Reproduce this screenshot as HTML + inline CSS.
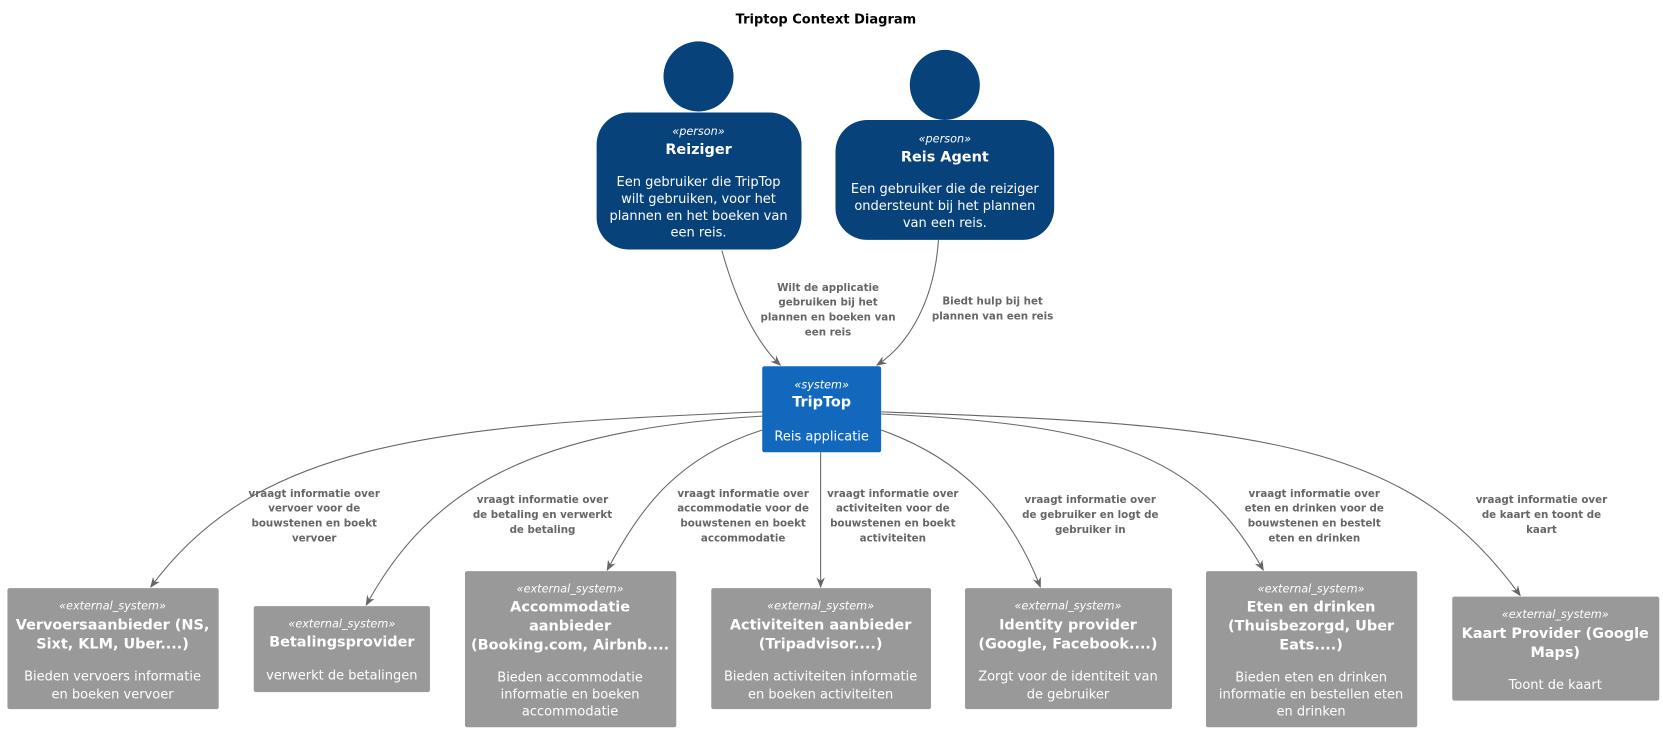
<!DOCTYPE html>
<html><head><meta charset="utf-8"><style>
html,body{margin:0;padding:0;background:#fff}
svg text{font-family:"DejaVu Sans","Liberation Sans",sans-serif}
.st{font-size:10.6px;font-style:italic;fill:#fff}
.ti{font-size:13.6px;font-weight:bold;fill:#fff}
.de{font-size:12.25px;fill:#fff}
.el{font-size:9.7px;font-weight:bold;fill:#666}
.ln{fill:none;stroke:#666;stroke-width:1}
</style></head><body>
<svg width="1663" height="732" viewBox="0 0 1663 732" xmlns="http://www.w3.org/2000/svg">
<defs><marker id="a" markerWidth="10" markerHeight="10" refX="9" refY="5" orient="auto" markerUnits="userSpaceOnUse"><path d="M0,1 L10,5 L0,9 L3,5 Z" fill="#666"/></marker></defs>
<g transform="scale(1.0616)">
<text x="778" y="22" text-anchor="middle" style="font-size:12.25px;font-weight:bold;fill:#000">Triptop Context Diagram</text>

<!-- persons -->
<circle cx="658" cy="72" r="33" fill="#08427b"/>
<rect x="562" y="106" width="193" height="129" rx="30" fill="#08427b"/>
<g text-anchor="middle">
<text class="st" x="658" y="127">«person»</text>
<text class="ti" x="658" y="145">Reiziger</text>
<text class="de" x="658" y="175">Een gebruiker die TripTop</text>
<text class="de" x="658" y="191">wilt gebruiken, voor het</text>
<text class="de" x="658" y="207">plannen en het boeken van</text>
<text class="de" x="658" y="223">een reis.</text>
</g>
<circle cx="890" cy="80" r="33" fill="#08427b"/>
<rect x="787" y="113" width="206" height="113" rx="30" fill="#08427b"/>
<g text-anchor="middle">
<text class="st" x="890" y="134">«person»</text>
<text class="ti" x="890" y="152">Reis Agent</text>
<text class="de" x="890" y="182">Een gebruiker die de reiziger</text>
<text class="de" x="890" y="198">ondersteunt bij het plannen</text>
<text class="de" x="890" y="214">van een reis.</text>
</g>

<!-- system -->
<rect x="718" y="345" width="112" height="81" rx="2" fill="#1168bd"/>
<g text-anchor="middle">
<text class="st" x="774" y="366">«system»</text>
<text class="ti" x="774" y="383">TripTop</text>
<text class="de" x="774" y="415">Reis applicatie</text>
</g>

<!-- edges -->
<path class="ln" marker-end="url(#a)" d="M680,236 C695,290 715,325 735,344"/>
<path class="ln" marker-end="url(#a)" d="M884,226 C880,285 855,325 826,344"/>
<path class="ln" marker-end="url(#a)" d="M718,388 C400,400 240,420 142,553"/>
<path class="ln" marker-end="url(#a)" d="M718,392 C500,405 405,460 345,570"/>
<path class="ln" marker-end="url(#a)" d="M718,405 C640,430 605,475 572,537"/>
<path class="ln" marker-end="url(#a)" d="M773,426 L773,553"/>
<path class="ln" marker-end="url(#a)" d="M830,405 C900,430 950,475 980,553"/>
<path class="ln" marker-end="url(#a)" d="M830,390 C1050,400 1130,430 1190,537"/>
<path class="ln" marker-end="url(#a)" d="M830,388 C1200,400 1330,420 1432,561"/>

<g text-anchor="middle">
<text class="el" x="780" y="274">Wilt de applicatie</text>
<text class="el" x="780" y="288">gebruiken bij het</text>
<text class="el" x="780" y="302">plannen en boeken van</text>
<text class="el" x="780" y="316">een reis</text>
<text class="el" x="935" y="287">Biedt hulp bij het</text>
<text class="el" x="935" y="301">plannen van een reis</text>

<text class="el" x="296" y="468">vraagt informatie over</text>
<text class="el" x="296" y="482">vervoer voor de</text>
<text class="el" x="296" y="496">bouwstenen en boekt</text>
<text class="el" x="296" y="510">vervoer</text>
<text class="el" x="511" y="474">vraagt informatie over</text>
<text class="el" x="511" y="488">de betaling en verwerkt</text>
<text class="el" x="511" y="502">de betaling</text>
<text class="el" x="700" y="468">vraagt informatie over</text>
<text class="el" x="700" y="482">accommodatie voor de</text>
<text class="el" x="700" y="496">bouwstenen en boekt</text>
<text class="el" x="700" y="510">accommodatie</text>
<text class="el" x="841" y="468">vraagt informatie over</text>
<text class="el" x="841" y="482">activiteiten voor de</text>
<text class="el" x="841" y="496">bouwstenen en boekt</text>
<text class="el" x="841" y="510">activiteiten</text>
<text class="el" x="1027" y="474">vraagt informatie over</text>
<text class="el" x="1027" y="488">de gebruiker en logt de</text>
<text class="el" x="1027" y="502">gebruiker in</text>
<text class="el" x="1238" y="468">vraagt informatie over</text>
<text class="el" x="1238" y="482">eten en drinken voor de</text>
<text class="el" x="1238" y="496">bouwstenen en bestelt</text>
<text class="el" x="1238" y="510">eten en drinken</text>
<text class="el" x="1452" y="474">vraagt informatie over</text>
<text class="el" x="1452" y="488">de kaart en toont de</text>
<text class="el" x="1452" y="502">kaart</text>
</g>

<!-- external systems -->
<g fill="#999999">
<rect x="7" y="554" width="199" height="114" rx="2"/>
<rect x="239" y="571" width="166" height="81" rx="2"/>
<rect x="438" y="538" width="199" height="147" rx="2"/>
<rect x="670" y="554" width="207" height="114" rx="2"/>
<rect x="909" y="554" width="195" height="114" rx="2"/>
<rect x="1136" y="538" width="199" height="147" rx="2"/>
<rect x="1368" y="562" width="195" height="98" rx="2"/>
</g>
<g text-anchor="middle">
<text class="st" x="106" y="574">«external_system»</text>
<text class="ti" x="106" y="593">Vervoersaanbieder (NS,</text>
<text class="ti" x="106" y="611">Sixt, KLM, Uber....)</text>
<text class="de" x="106" y="641">Bieden vervoers informatie</text>
<text class="de" x="106" y="658">en boeken vervoer</text>

<text class="st" x="322" y="591">«external_system»</text>
<text class="ti" x="322" y="609">Betalingsprovider</text>
<text class="de" x="322" y="640">verwerkt de betalingen</text>

<text class="st" x="537" y="558">«external_system»</text>
<text class="ti" x="537" y="576">Accommodatie</text>
<text class="ti" x="537" y="594">aanbieder</text>
<text class="ti" x="537" y="612">(Booking.com, Airbnb....</text>
<text class="de" x="537" y="642">Bieden accommodatie</text>
<text class="de" x="537" y="658">informatie en boeken</text>
<text class="de" x="537" y="674">accommodatie</text>

<text class="st" x="773" y="574">«external_system»</text>
<text class="ti" x="773" y="593">Activiteiten aanbieder</text>
<text class="ti" x="773" y="611">(Tripadvisor....)</text>
<text class="de" x="773" y="641">Bieden activiteiten informatie</text>
<text class="de" x="773" y="658">en boeken activiteiten</text>

<text class="st" x="1006" y="574">«external_system»</text>
<text class="ti" x="1006" y="593">Identity provider</text>
<text class="ti" x="1006" y="611">(Google, Facebook....)</text>
<text class="de" x="1006" y="641">Zorgt voor de identiteit van</text>
<text class="de" x="1006" y="658">de gebruiker</text>

<text class="st" x="1235" y="558">«external_system»</text>
<text class="ti" x="1235" y="576">Eten en drinken</text>
<text class="ti" x="1235" y="594">(Thuisbezorgd, Uber</text>
<text class="ti" x="1235" y="612">Eats....)</text>
<text class="de" x="1235" y="642">Bieden eten en drinken</text>
<text class="de" x="1235" y="658">informatie en bestellen eten</text>
<text class="de" x="1235" y="674">en drinken</text>

<text class="st" x="1465" y="582">«external_system»</text>
<text class="ti" x="1465" y="601">Kaart Provider (Google</text>
<text class="ti" x="1465" y="619">Maps)</text>
<text class="de" x="1465" y="649">Toont de kaart</text>
</g>
</g>
</svg>
</body></html>
